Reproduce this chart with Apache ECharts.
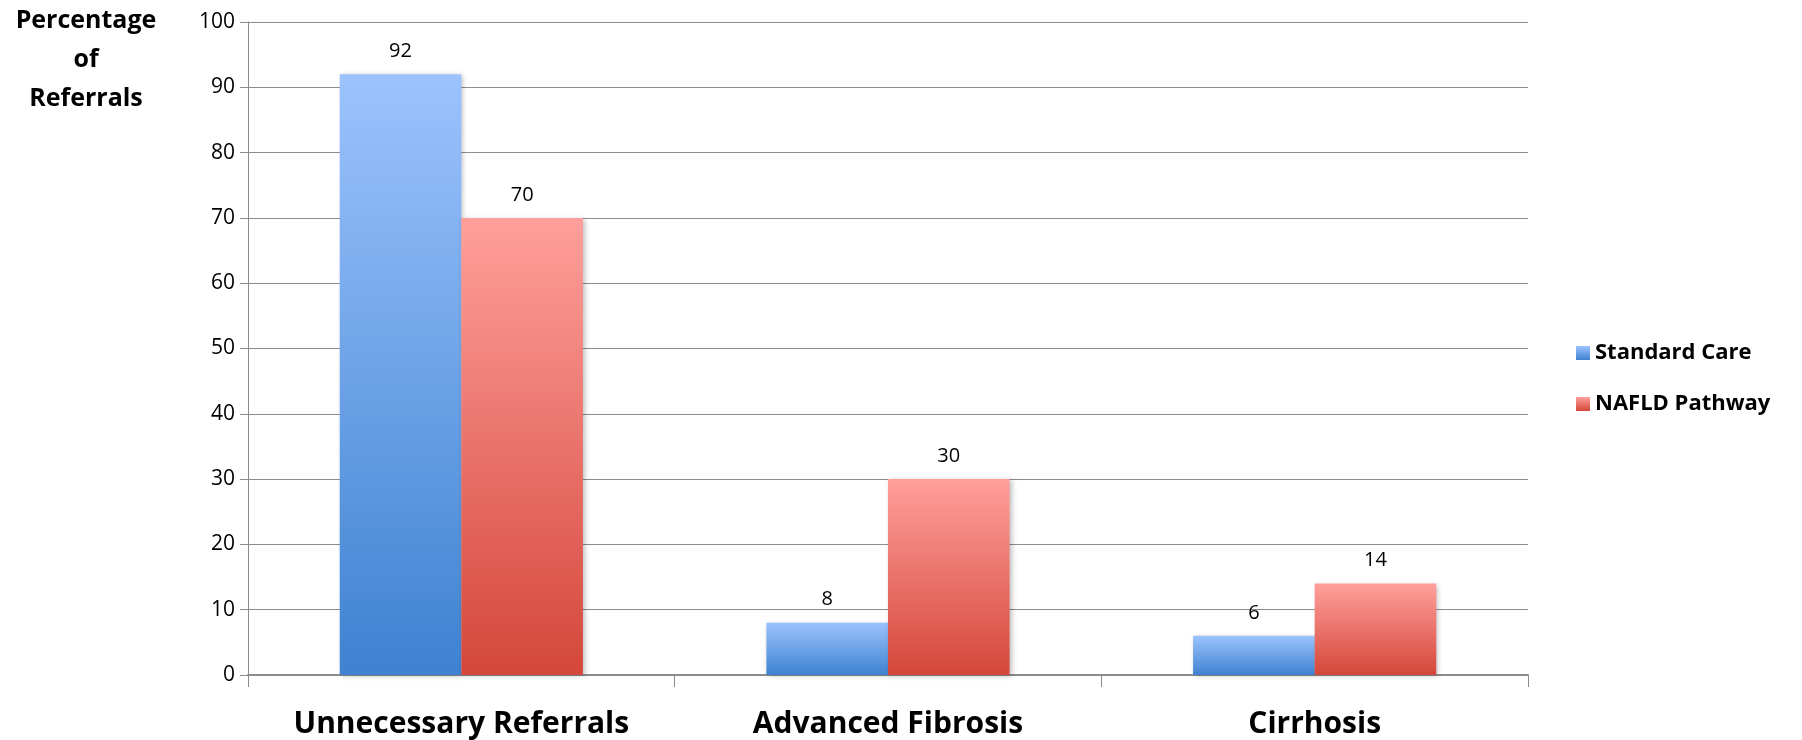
<!DOCTYPE html>
<html>
<head>
<meta charset="utf-8">
<script src="https://cdn.jsdelivr.net/npm/echarts@6/dist/echarts.min.js"></script>
<style>
html,body{margin:0;padding:0;background:#fff;}
#chart{width:1802px;height:740px;}
</style>
</head>
<body>
<div id="chart"></div>
<script>
const categories = ['Unnecessary Referrals', 'Advanced Fibrosis', 'Cirrhosis'];
const standardCare = [92, 8, 6];
const nafldPathway = [70, 30, 14];
const seriesNames = ['Standard Care', 'NAFLD Pathway'];
const yAxisTitle = 'Percentage\nof\nReferrals';

const FONT = '"Open Sans", "Noto Sans", sans-serif';
function grad(top, bottom) {
  return new echarts.graphic.LinearGradient(0, 0, 0, 1, [
    {offset: 0, color: top}, {offset: 1, color: bottom}
  ]);
}
const chart = echarts.init(document.getElementById('chart'));
chart.setOption({
  animation: false,
  backgroundColor: '#fff',
  textStyle: {fontFamily: FONT},
  grid: {left: 248, right: 274, top: 22, bottom: 65, containLabel: false},
  graphic: [{
    type: 'text', x: 86, y: 1,
    style: {text: yAxisTitle, font: 'bold 25px ' + FONT, fill: '#000', align: 'center', verticalAlign: 'top', lineHeight: 39}
  }],
  legend: {
    orient: 'vertical', left: 1571, top: 337,
    itemWidth: 14, itemHeight: 14, itemGap: 29,
    icon: 'rect',
    textStyle: {fontFamily: FONT, fontWeight: 'bold', fontSize: 22, color: '#000', padding: [0,0,0,0]},
    data: seriesNames
  },
  xAxis: {
    type: 'category', data: categories,
    axisLine: {lineStyle: {color: '#8c8c8c', width: 2}},
    axisTick: {show: true, interval: 0, length: 12, lineStyle: {color: '#8c8c8c', width: 1}},
    axisLabel: {interval: 0, fontFamily: FONT, fontWeight: 'bold', fontSize: 30, color: '#000', margin: 34}
  },
  yAxis: {
    type: 'value', min: 0, max: 100, interval: 10,
    axisLine: {show: true, lineStyle: {color: '#8c8c8c', width: 1}},
    axisTick: {show: true, inside: false, length: 8, lineStyle: {color: '#8c8c8c'}},
    splitLine: {lineStyle: {color: '#8c8c8c', width: 1}},
    axisLabel: {fontFamily: FONT, fontSize: 21, color: '#000', margin: 13}
  },
  series: [
    {
      name: seriesNames[0], type: 'bar', data: standardCare,
      barGap: '0%', barCategoryGap: '43%',
      itemStyle: {color: grad('#9cc3fd', '#3e82d1'), shadowBlur: 5, shadowColor: 'rgba(0,0,0,0.25)', shadowOffsetX: 2, shadowOffsetY: 1},
      label: {show: true, position: 'top', distance: 13, fontFamily: FONT, fontSize: 20, color: '#000'}
    },
    {
      name: seriesNames[1], type: 'bar', data: nafldPathway,
      itemStyle: {color: grad('#ff9f9b', '#d4473a'), shadowBlur: 5, shadowColor: 'rgba(0,0,0,0.25)', shadowOffsetX: 2, shadowOffsetY: 1},
      label: {show: true, position: 'top', distance: 13, fontFamily: FONT, fontSize: 20, color: '#000'}
    }
  ]
});
</script>
</body>
</html>
